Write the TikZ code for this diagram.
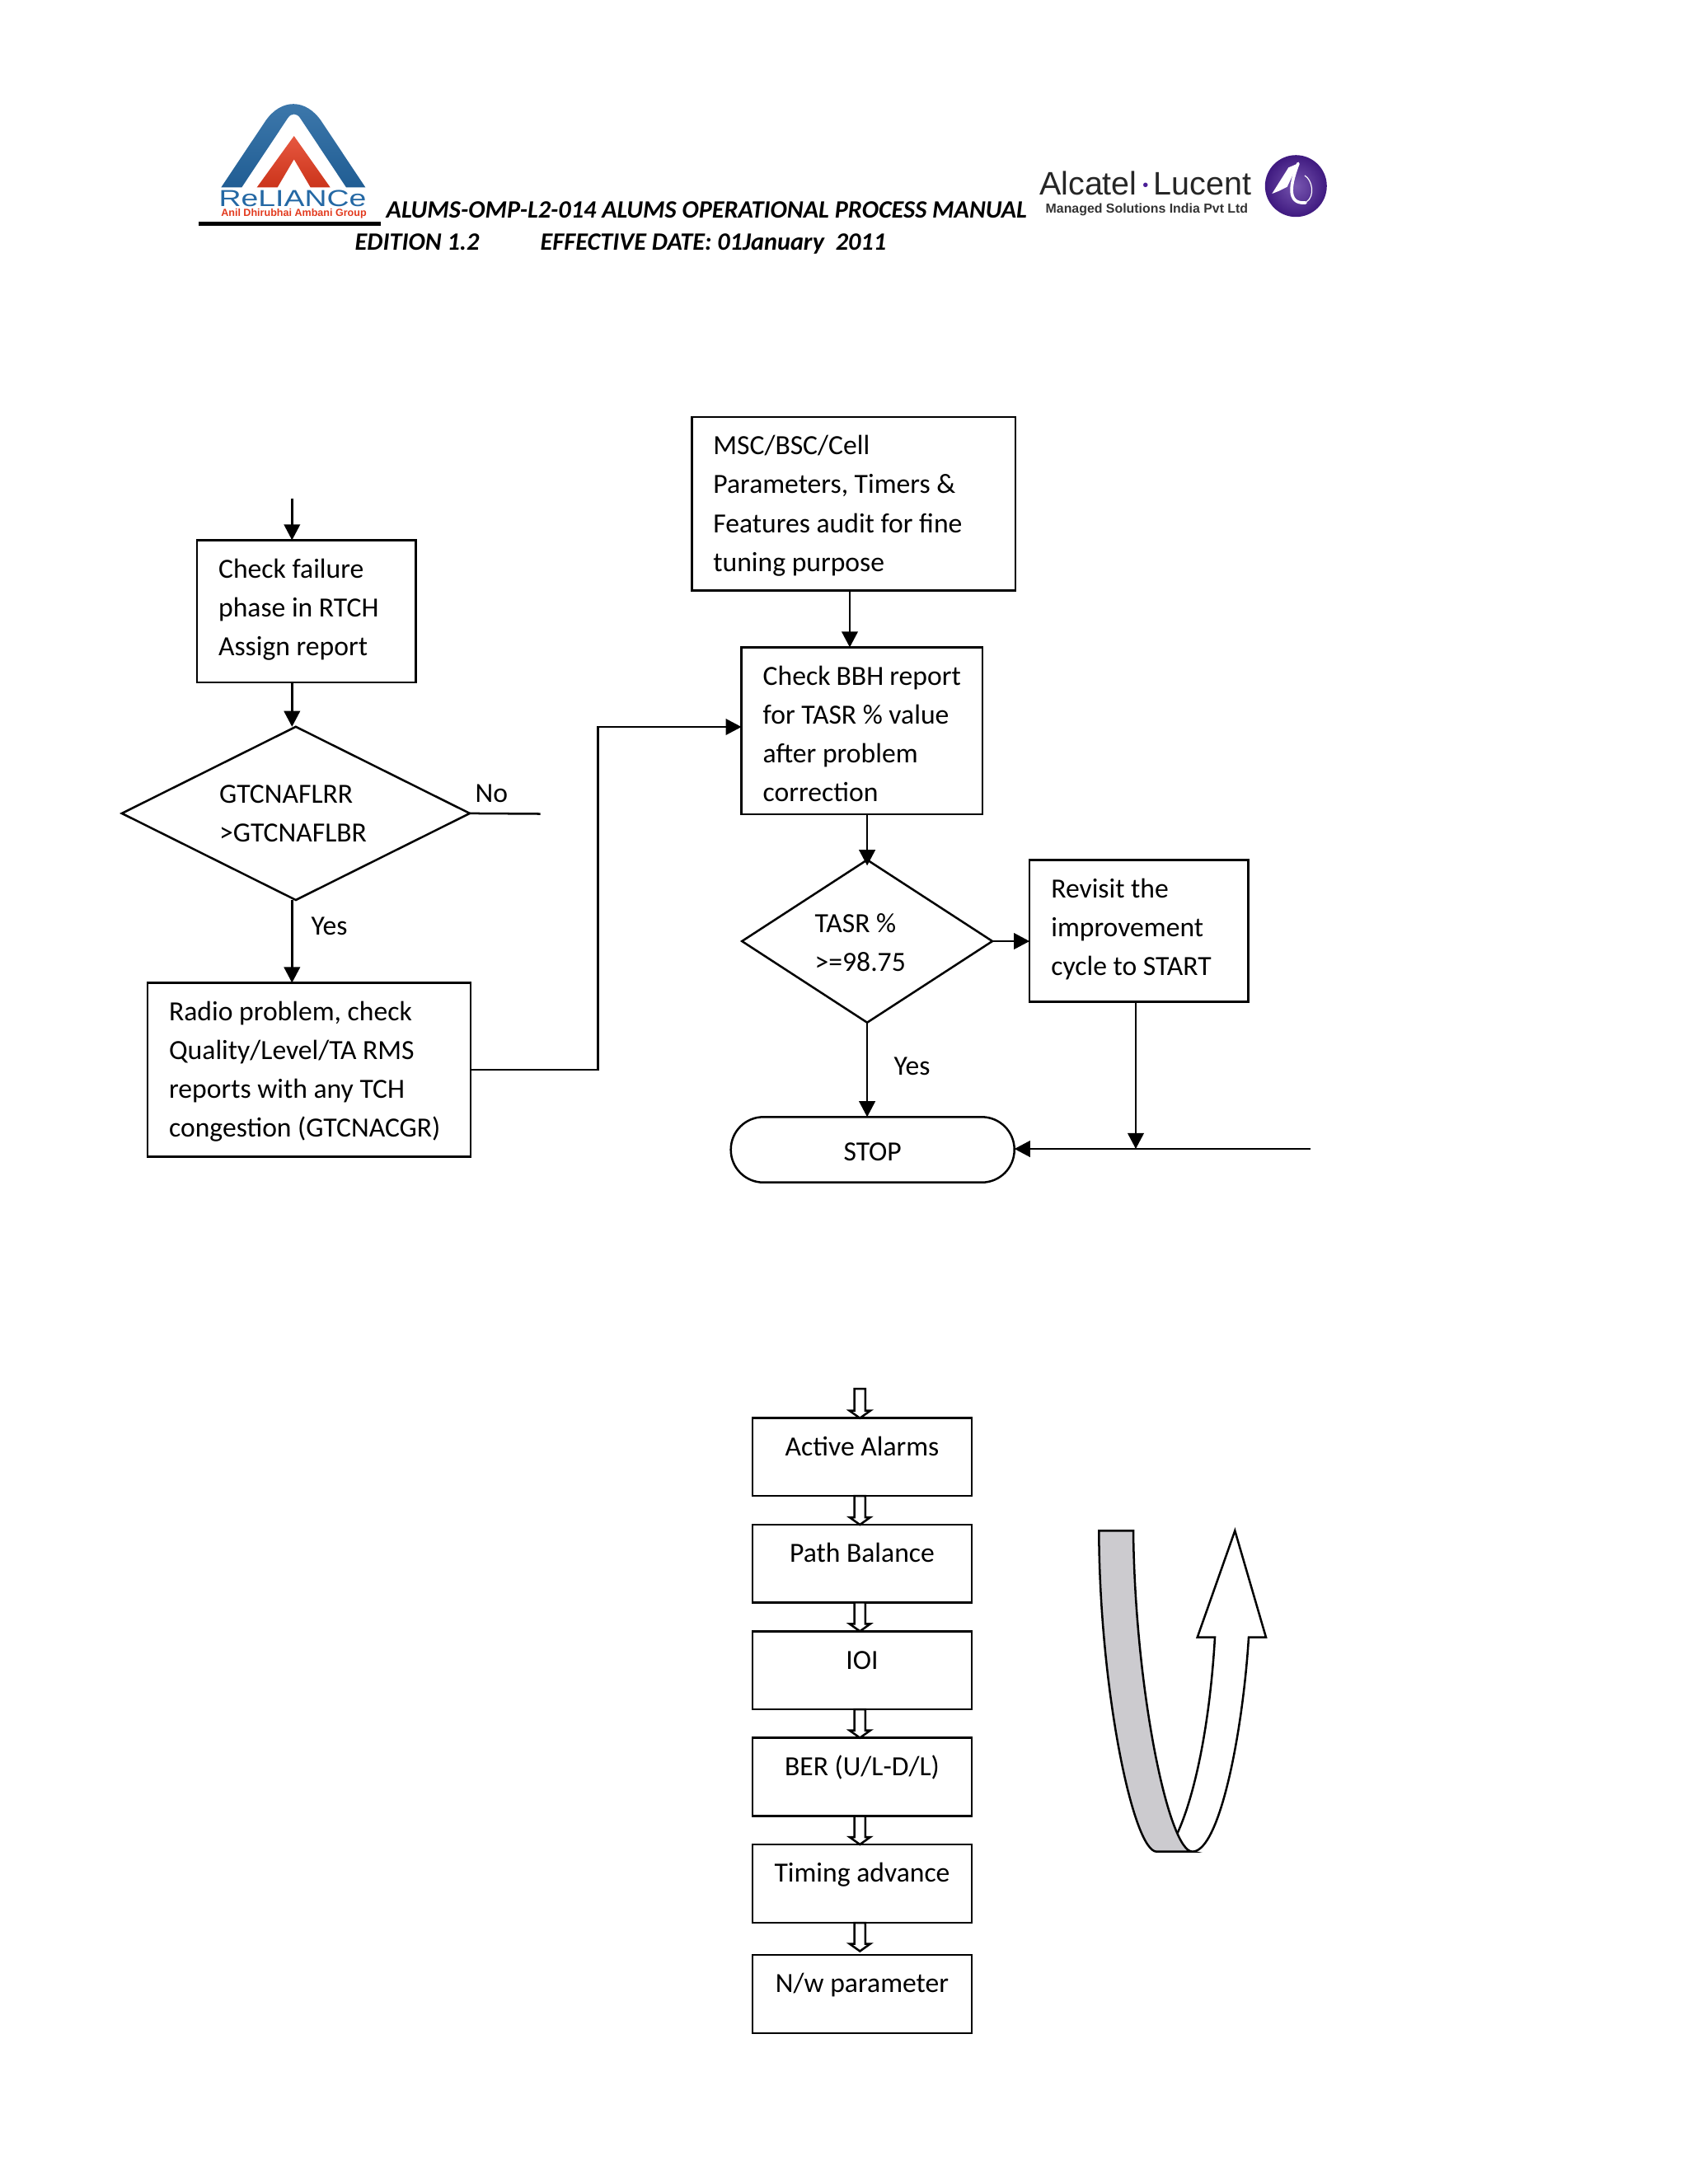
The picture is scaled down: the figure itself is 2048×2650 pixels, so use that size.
\documentclass[tikz,border=0pt]{standalone}
\usepackage{fontspec}
\setmainfont{Carlito}
\newfontfamily\logofont{Liberation Sans}
\usetikzlibrary{arrows.meta,calc,shapes.geometric}
\definecolor{logoblue}{HTML}{2468A4}
\definecolor{logored}{HTML}{E23A1E}
\definecolor{logopurple}{HTML}{4A1E96}
\definecolor{ribbongray}{HTML}{CCCBCF}
\newlength\pxu
\setlength\pxu{0.29883pt}
\newcommand{\boxtext}[3]{\parbox[t][\dimexpr#2\pxu-7.8pt][t]{\dimexpr#1\pxu-15.6pt}{\raggedright\strut#3}}
\newcommand{\lowered}[2]{\raisebox{-#1\pxu}[\height][\depth]{#2}}
\newcommand{\hollowarrow}[2]{%
  \draw[hollowline] ($(#1)+(-6.6,0)$) -- ($(#2)+(-6.6,-9)$) -- ($(#2)+(-12.6,-9)$) -- (#2)
    -- ($(#2)+(12.6,-9)$) -- ($(#2)+(6.6,-9)$) -- ($(#1)+(6.6,0)$) -- cycle;}
\tikzset{
  bodytext/.style={font=\fontsize{10.05}{14.05}\selectfont},
  stepbox/.style={draw, bodytext, line width=.75pt, anchor=north west, outer sep=0pt,
    inner xsep=7.8pt, inner ysep=3.9pt},
  stopbox/.style={draw, bodytext, line width=.75pt, outer sep=0pt, rounded corners=11.8pt,
    minimum width=344\pxu, minimum height=79.4\pxu},
  decision/.style={draw, diamond, bodytext, line width=.75pt, outer sep=0pt, inner sep=0pt, align=left},
  flow/.style={line width=.75pt, -{Triangle[length=5.7pt,width=5.8pt]}},
  plainline/.style={line width=.75pt},
  hollowline/.style={line width=.75pt, fill=white},
  caption/.style={bodytext, anchor=base west, inner sep=0pt},
  headtext/.style={font=\fontsize{9.05}{12}\selectfont\bfseries\itshape, anchor=base west, inner sep=0pt}
}
\begin{document}
\begin{tikzpicture}[x=0.29883pt, y=-0.29883pt]
  \useasboundingbox (0,0) rectangle (2048,2650);
  % logos and page header
  \shade[top color=logoblue!85!white, bottom color=logoblue!90!black]
    (268.3,227.3) [rounded corners=18.5pt] -- (356,96) [sharp corners] -- (443.3,227.3) -- (420,227.3)
    [rounded corners=4pt] -- (356.7,132) [sharp corners] -- (293.3,227.3) -- cycle;
  \shade[top color=logored!85!white, bottom color=logored!90!black]
    (311.7,227.3) -- (356.7,165) -- (400.7,227.3) -- (376.7,227.3) -- (356.7,193.3) -- (336.7,227.3) -- cycle;
  \node[inner sep=0pt, anchor=base, xscale=1.33, text=logoblue, font=\logofont\fontsize{8.4}{10}\selectfont] (relname) at (355,250.5) {ReLIANCe};
  \node[inner sep=0pt, anchor=base, text=logored, font=\logofont\bfseries\fontsize{3.75}{4}\selectfont] (relgroup) at (356.5,262) {Anil Dhirubhai Ambani Group};
  \fill (240.7,268.7) rectangle (461.7,274);
  \node[headtext] (headline) at (468,264) {ALUMS-OMP-L2-014 ALUMS OPERATIONAL PROCESS MANUAL};
  \node[headtext] (edition) at (430,303) {EDITION 1.2};
  \node[headtext] (effdate) at (655,303) {EFFECTIVE DATE: 01January\ \ 2011};
  \node[inner sep=0pt, anchor=base west, text=black!85, font=\logofont\fontsize{11.8}{12}\selectfont] (alcatel) at (1260.5,236) {Alcatel\,{\color{logopurple}\raisebox{.2ex}{\fontsize{6}{6}\selectfont\textbullet}}\,Lucent};
  \node[inner sep=0pt, anchor=base west, text=black!80, font=\logofont\bfseries\fontsize{4.75}{5}\selectfont] (managed) at (1268,258.3) {Managed Solutions India Pvt Ltd};
  \shade[inner color=logopurple!75!white, outer color=logopurple!85!black] (1572.3,225.7) circle (37.5);
  \fill[white] (1543.3,235) -- (1563.3,203.3) -- (1575,198.3) -- (1561.7,226.7) -- (1551.7,231.7) -- cycle;
  \draw[white, line width=1.1pt, line cap=round] (1575,198.3) .. controls (1566,222) and (1560,248) .. (1584,246);
  \draw[white, line width=.35pt] (1583,213) .. controls (1592,218) and (1596,238) .. (1585,245);
  % flow chart, left column
  \coordinate (entry) at (354.3,604.6);
  \coordinate (leftaxis) at (354.3,0);
  \coordinate (noend) at (655.7,987.5);
  \node[stepbox] (check) at (239,655.4) {\boxtext{265.6}{172.6}{Check failure\\phase in RTCH\\Assign report}};
  \node[decision, minimum width=422.1\pxu, minimum height=210.2\pxu, aspect=2] (gtc) at (358.9,986.9) {GTCNAFLRR\\>GTCNAFLBR\hspace*{2pt}};
  \node[stepbox] (radio) at (179,1192.5) {\boxtext{392}{210.8}{Radio problem, check\\Quality/Level/TA RMS\\reports with any TCH\\congestion (GTCNACGR)}};
  \node[caption] (nolabel) at (576,973.3) {No};
  \node[caption] (yesleft) at (377,1134) {Yes};
  \draw[flow] (entry) -- (entry |- check.north);
  \draw[flow] (check.south -| leftaxis) -- (gtc.north -| leftaxis);
  \draw[plainline] (gtc.east) -- (noend);
  \draw[flow] (gtc.south -| leftaxis) -- (radio.north -| leftaxis);
  % flow chart, right column
  \coordinate (mscaxis) at (1031,0);
  \coordinate (bend) at (725.7,882);
  \coordinate (revaxis) at (1378,0);
  \coordinate (rightend) at (1589.5,1394);
  \node[stepbox] (msc) at (839.3,506) {\boxtext{392.5}{210.4}{MSC/BSC/Cell\\Parameters, Timers \&\\Features audit for fine\\tuning purpose}};
  \node[stepbox] (bbh) at (899.6,785.4) {\boxtext{292.2}{202.5}{Check BBH report\\for TASR \% value\\after problem\\correction}};
  \node[decision, minimum width=303.8\pxu, minimum height=197.4\pxu, aspect=1.54] (tasr) at (1052.1,1142) {\lowered{1.7}{TASR \%}\\\lowered{1.7}{>=98.75}\hspace*{5pt}};
  \node[stepbox] (revisit) at (1249.2,1043.3) {\boxtext{265.2}{172.4}{Revisit the\\improvement\\cycle to START}};
  \node[stopbox] (stop) at (1058.7,1395) {\lowered{3}{STOP}};
  \node[caption] (yesright) at (1084,1304.2) {Yes};
  \draw[flow] (msc.south -| mscaxis) -- (bbh.north -| mscaxis);
  \draw[flow] (bbh.south -| tasr.north) -- ($(tasr.north)+(0,7)$);
  \draw[flow] (tasr.east) -- (tasr.east -| revisit.west);
  \draw[flow] (tasr.south) -- (stop.north -| tasr.south);
  \draw[flow] (revisit.south -| revaxis) -- (rightend -| revaxis);
  \draw[flow] (rightend) -- (stop.east |- rightend);
  \draw[flow] (radio.east) -| (bend) -- (bend -| bbh.west);
  % lower chain of checks
  \coordinate (axis) at (1043.3,0);
  \coordinate (chaintop) at (1043.3,1685);
  \node[stepbox] (active) at (913,1720.7) {\boxtext{266}{94.3}{\centering Active Alarms}};
  \node[stepbox] (balance) at (913,1850) {\boxtext{266}{94.3}{\centering Path Balance}};
  \node[stepbox] (ioi) at (913,1979.3) {\boxtext{266}{94.7}{\centering IOI}};
  \node[stepbox] (ber) at (913,2108.6) {\boxtext{266}{94.9}{\centering BER (U/L-D/L)}};
  \node[stepbox] (timing) at (913,2238) {\boxtext{266}{95}{\centering Timing advance}};
  \node[stepbox] (nwparam) at (913,2372) {\boxtext{266}{95}{\centering N/w parameter}};
  \coordinate (lasttip) at (1043.3,2367.5);
  \hollowarrow{chaintop}{active.north -| axis}
  \foreach \from/\to in {active/balance,balance/ioi,ioi/ber,ber/timing}
    \hollowarrow{\from.south -| axis}{\to.north -| axis};
  \hollowarrow{timing.south -| axis}{lasttip}
  % curved arrow
  \draw[line width=.75pt, line join=miter, fill=white] (1446.7,2246.7)
    .. controls (1480,2246.7) and (1508,2100) .. (1515,1986.7) -- (1536,1986.7) -- (1498.3,1857.3)
    -- (1452.7,1986.7) -- (1474,1986.7) .. controls (1468,2090) and (1450,2180) .. (1426.7,2228.3);
  \draw[line width=.75pt, fill=ribbongray] (1333.3,1857.3) .. controls (1334,2050) and (1375,2246.7) .. (1403.3,2246.7)
    -- (1446.7,2246.7) .. controls (1418,2246.7) and (1377,2050) .. (1375,1857.3) -- cycle;
\end{tikzpicture}
\end{document}
